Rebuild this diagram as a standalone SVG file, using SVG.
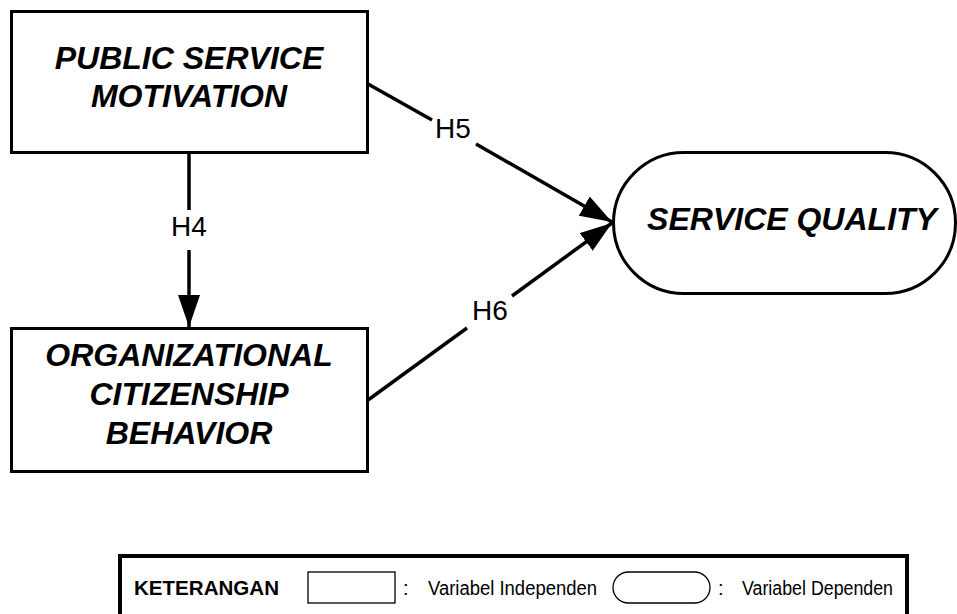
<svg xmlns="http://www.w3.org/2000/svg" width="957" height="614" viewBox="0 0 957 614">
  <style>
    .node { fill: #ffffff; stroke: #000000; stroke-width: 3; }
    .title { font-family: "Liberation Sans", Arial, sans-serif; font-size: 32px; font-weight: bold; font-style: italic; fill: #000000; text-anchor: middle; }
    .edge { fill: none; stroke: #000000; stroke-width: 3.5; }
    .elabel { font-family: "Liberation Sans", Arial, sans-serif; font-size: 28px; fill: #000000; text-anchor: middle; }
    .legend { font-family: "Liberation Sans", Arial, sans-serif; font-size: 20px; fill: #000000; }
    .legend-b { font-family: "Liberation Sans", Arial, sans-serif; font-size: 21px; font-weight: bold; fill: #000000; }
    .key { fill: #ffffff; stroke: #000000; stroke-width: 1.3; }
  </style>
  <defs>
    <marker id="arrow" viewBox="0 0 32 22" refX="32" refY="11" markerWidth="32" markerHeight="22" markerUnits="userSpaceOnUse" orient="auto">
      <path d="M0,0 L32,11 L0,22 Z" fill="#000000"/>
    </marker>
  </defs>
  <rect width="957" height="614" fill="#ffffff"/>

  <g id="connectors">
    <!-- H4: PSM -> OCB -->
    <line class="edge" x1="189" y1="153" x2="189" y2="210"/>
    <line class="edge" x1="189" y1="250" x2="189" y2="327" marker-end="url(#arrow)"/>
    <text class="elabel" x="189" y="236">H4</text>
    <!-- H5: PSM -> SQ -->
    <line class="edge" x1="368" y1="84" x2="432" y2="120"/>
    <line class="edge" x1="476" y1="144" x2="612" y2="222" marker-end="url(#arrow)"/>
    <text class="elabel" x="453" y="138">H5</text>
    <!-- H6: OCB -> SQ -->
    <line class="edge" x1="368" y1="400" x2="467" y2="328"/>
    <line class="edge" x1="512" y1="296" x2="612" y2="223" marker-end="url(#arrow)"/>
    <text class="elabel" x="490" y="320">H6</text>
  </g>

  <g id="psm">
    <rect class="node" x="11.5" y="11.5" width="356" height="141"/>
    <text class="title" x="189" y="69">PUBLIC SERVICE</text>
    <text class="title" x="189" y="107">MOTIVATION</text>
  </g>

  <g id="ocb">
    <rect class="node" x="11.5" y="328.5" width="356" height="143"/>
    <text class="title" x="189" y="366">ORGANIZATIONAL</text>
    <text class="title" x="189" y="405">CITIZENSHIP</text>
    <text class="title" x="189" y="444">BEHAVIOR</text>
  </g>

  <g id="sq">
    <rect class="node" x="613.5" y="152.5" width="342" height="141" rx="70.5" ry="70.5"/>
    <text class="title" x="792" y="230">SERVICE QUALITY</text>
  </g>

  <g id="legend">
    <rect x="120" y="556" width="787" height="70" fill="#ffffff" stroke="#000000" stroke-width="4"/>
    <text class="legend-b" x="134" y="595" textLength="145" lengthAdjust="spacingAndGlyphs">KETERANGAN</text>
    <rect class="key" x="308" y="572" width="87" height="31"/>
    <text class="legend" x="403" y="595">:</text>
    <text class="legend" x="428" y="595" textLength="169" lengthAdjust="spacingAndGlyphs">Variabel Independen</text>
    <rect class="key" x="613" y="572" width="97" height="31" rx="15.5" ry="15.5"/>
    <text class="legend" x="718" y="595">:</text>
    <text class="legend" x="742" y="595" textLength="151" lengthAdjust="spacingAndGlyphs">Variabel Dependen</text>
  </g>
</svg>
